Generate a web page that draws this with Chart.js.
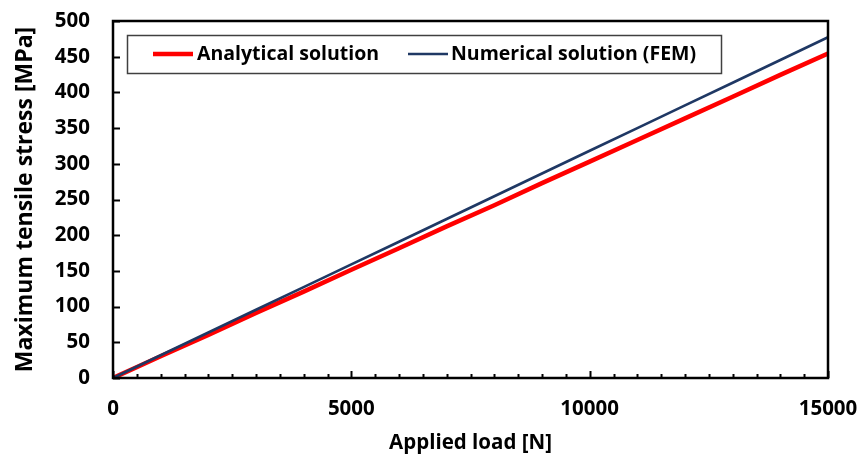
<!DOCTYPE html>
<html>
<head>
<meta charset="utf-8">
<script src="https://cdn.jsdelivr.net/npm/chart.js@4.4.1/dist/chart.umd.min.js"></script>
<style>
  html, body { margin: 0; padding: 0; background: #fff; }
  #wrap { width: 860px; height: 455px; }
</style>
</head>
<body>
<div id="wrap"><canvas id="stressChart" width="860" height="455"></canvas></div>
<script>
// ---------- DATA ----------
const loadN = [0, 1000, 2000, 3000, 4000, 5000, 6000, 7000, 8000, 9000, 10000, 11000, 12000, 13000, 14000, 15000];
const analyticalMPa = [0, 30.5, 60.4, 91.2, 121.0, 151.6, 181.8, 212.3, 242.0, 272.9, 303.0, 333.4, 363.6, 393.9, 424.5, 454.5];
const femMPa = [0, 31.8, 63.7, 95.5, 127.3, 159.1, 190.9, 222.7, 254.6, 286.4, 318.2, 350.0, 381.8, 413.6, 445.5, 477.3];
const seriesNames = ["Analytical solution", "Numerical solution (FEM)"];
const seriesColors = ["#ff0000", "#1f3864"];
const xTicks = [0, 5000, 10000, 15000];
const xMinorStep = 500;
const yTicks = [0, 50, 100, 150, 200, 250, 300, 350, 400, 450, 500];

const FONT = "'Open Sans'";
Chart.defaults.font.family = FONT;
Chart.defaults.color = "#000";

const toPoints = (xs, ys) => xs.map((v, i) => ({ x: v, y: ys[i] }));

// ---------- FRAME, INSIDE TICKS, LEGEND BOX ----------
const frameAndLegend = {
  id: "frameAndLegend",
  afterDatasetsDraw(chart) {
    const { ctx, chartArea: a, scales: { x, y } } = chart;
    ctx.save();
    ctx.strokeStyle = "#000";

    // y ticks point into the plot
    ctx.lineWidth = 2;
    yTicks.forEach(v => {
      const py = Math.round(y.getPixelForValue(v)) + 0.5;
      ctx.beginPath();
      ctx.moveTo(a.left, py);
      ctx.lineTo(a.left + 7, py);
      ctx.stroke();
    });

    // x minor/major ticks, pointing up
    for (let v = x.min; v <= x.max; v += xMinorStep) {
      const px = Math.round(x.getPixelForValue(v)) + 0.5;
      const len = xTicks.includes(v) ? 7 : 4;
      ctx.beginPath();
      ctx.moveTo(px, a.bottom);
      ctx.lineTo(px, a.bottom - len);
      ctx.stroke();
    }

    // plot frame
    ctx.lineWidth = 2.5;
    ctx.strokeRect(a.left, a.top, a.right - a.left, a.bottom - a.top);

    // legend
    ctx.fillStyle = "#fff";
    ctx.fillRect(127, 35, 595, 38);
    ctx.lineWidth = 1.5;
    ctx.strokeStyle = "#404040";
    ctx.strokeRect(127.5, 35.5, 594, 38);

    const items = [
      { x1: 153, x2: 193, tx: 197, w: 4.5 },
      { x1: 408, x2: 448, tx: 451, w: 2.7 }
    ];
    ctx.font = "bold 19.5px " + FONT;
    ctx.textBaseline = "middle";
    ctx.textAlign = "left";
    items.forEach((it, i) => {
      ctx.strokeStyle = seriesColors[i];
      ctx.lineWidth = it.w;
      ctx.beginPath();
      ctx.moveTo(it.x1, 54);
      ctx.lineTo(it.x2, 54);
      ctx.stroke();
      ctx.fillStyle = "#000";
      ctx.fillText(seriesNames[i], it.tx, 54);
    });
    ctx.restore();
  }
};

// label overflow must not shrink the plot area
const noEdgePadding = s => {
  s.paddingLeft = 0; s.paddingRight = 0; s.paddingTop = 0; s.paddingBottom = 0;
};

// ---------- CHART ----------
const ctx = document.getElementById("stressChart").getContext("2d");
new Chart(ctx, {
  type: "line",
  data: {
    datasets: [
      {
        label: seriesNames[0],
        data: toPoints(loadN, analyticalMPa),
        borderColor: seriesColors[0],
        borderWidth: 4.5,
        pointRadius: 0,
        tension: 0,
        order: 1
      },
      {
        label: seriesNames[1],
        data: toPoints(loadN, femMPa),
        borderColor: seriesColors[1],
        borderWidth: 2.7,
        pointRadius: 0,
        tension: 0,
        order: 0
      }
    ]
  },
  options: {
    responsive: false,
    animation: false,
    layout: { padding: { top: 21, right: 32, left: 0, bottom: 0 } },
    plugins: {
      legend: { display: false },
      tooltip: { enabled: false }
    },
    scales: {
      x: {
        type: "linear",
        min: 0,
        max: 15000,
        afterBuildTicks: s => { s.ticks = xTicks.map(v => ({ value: v })); },
        ticks: { font: { size: 20.5, weight: "bold" }, padding: 19, maxRotation: 0, callback: v => String(v) },
        grid: { display: false, drawTicks: false },
        border: { display: false },
        title: { display: true, text: "Applied load [N]", font: { size: 20.5, weight: "bold" }, padding: { top: 4, bottom: 0 } },
        afterFit: s => { s.height = 77; noEdgePadding(s); }
      },
      y: {
        min: 0,
        max: 500,
        afterBuildTicks: s => { s.ticks = yTicks.map(v => ({ value: v })); },
        ticks: { font: { size: 20.5, weight: "bold" }, padding: 23, callback: v => String(v) },
        grid: { display: false, drawTicks: false },
        border: { display: false },
        title: { display: true, text: "Maximum tensile stress [MPa]", font: { size: 23, weight: "bold" }, padding: { top: 12, bottom: 0 } },
        afterFit: s => { s.width = 113; noEdgePadding(s); }
      }
    }
  },
  plugins: [frameAndLegend]
});
</script>
</body>
</html>
